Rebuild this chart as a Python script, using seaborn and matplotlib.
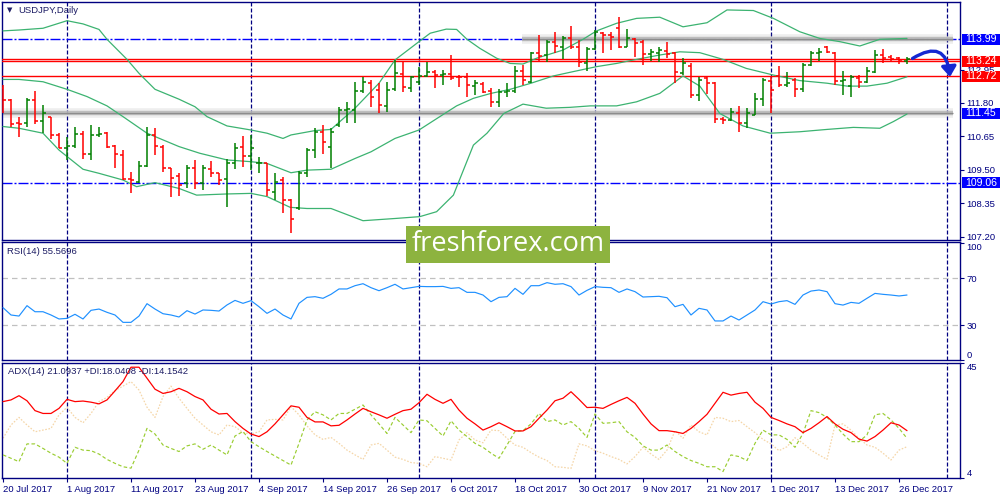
import numpy as np
import pandas as pd
import matplotlib
matplotlib.use("Agg")
import matplotlib.pyplot as plt
import seaborn as sns
from matplotlib.patches import FancyArrowPatch, Rectangle

sns.set_theme(style="white")
plt.rcParams['font.family'] = ['Liberation Sans', 'DejaVu Sans']

# ---------------- data ----------------
dates = [d for d in pd.bdate_range('2017-07-20', '2017-12-27') if d != pd.Timestamp('2017-12-25')]

opens = [112.30, 111.90, 111.10, 111.12, 111.90, 111.19, 111.31, 110.70, 110.26, 110.33,
         110.73, 110.04, 110.70, 110.78, 110.33, 110.01, 109.17, 109.09, 109.64, 110.70,
         110.30, 109.55, 109.30, 109.04, 109.55, 109.06, 109.52, 109.38, 109.17, 109.72,
         110.30, 109.98, 109.72, 109.72, 108.75, 109.15, 108.46, 108.17, 109.40, 110.18,
         110.81, 110.30, 111.04, 111.56, 111.56, 112.22, 112.50, 112.25, 111.70, 112.27,
         112.80, 112.30, 112.53, 112.73, 112.88, 112.76, 112.80, 112.70, 112.68, 112.39,
         112.45, 112.22, 111.84, 112.19, 112.22, 112.91, 112.53, 113.53, 113.45, 113.91,
         113.74, 114.02, 113.74, 113.16, 113.64, 114.20, 114.14, 114.37, 113.74, 113.99,
         113.91, 113.48, 113.53, 113.60, 113.51, 112.82, 113.07, 112.07, 112.65, 112.48,
         111.24, 111.21, 111.47, 111.10, 111.39, 111.93, 112.57, 112.73, 112.42, 112.59,
         112.27, 113.11, 113.53, 113.71, 113.53, 112.57, 112.38, 112.65, 112.53, 112.88,
         113.45, 113.37, 113.34, 113.26]
highs = [112.42, 111.93, 111.31, 111.96, 112.22, 111.73, 111.33, 110.76, 110.62, 110.96,
         110.85, 111.03, 110.96, 110.81, 110.35, 110.18, 109.44, 109.80, 110.96, 110.95,
         110.35, 109.57, 109.40, 109.67, 109.84, 109.67, 109.82, 109.40, 109.86, 110.43,
         110.66, 110.70, 109.93, 109.74, 109.38, 109.24, 108.48, 109.47, 110.24, 110.93,
         111.04, 110.93, 111.65, 111.84, 112.53, 112.70, 112.59, 112.50, 112.53, 113.28,
         113.22, 112.73, 113.05, 113.22, 112.93, 112.93, 113.45, 112.76, 112.82, 112.59,
         112.53, 112.30, 112.27, 112.48, 113.07, 113.11, 113.56, 114.14, 113.97, 114.25,
         114.10, 114.45, 113.97, 113.71, 114.31, 114.25, 114.25, 114.75, 114.33, 114.02,
         113.97, 113.64, 113.74, 113.91, 113.56, 113.34, 113.16, 112.70, 112.70, 112.53,
         111.33, 111.62, 111.70, 111.62, 112.13, 112.65, 112.73, 113.07, 112.88, 112.65,
         113.16, 113.60, 113.68, 113.76, 113.56, 112.91, 112.76, 112.76, 113.05, 113.62,
         113.64, 113.45, 113.37, 113.37]
lows = [111.44, 110.99, 110.62, 110.99, 111.08, 110.76, 110.55, 110.24, 109.84, 110.24,
        109.86, 109.84, 110.64, 110.24, 109.55, 109.15, 108.71, 109.06, 109.61, 110.01,
        109.44, 108.58, 108.60, 108.86, 108.83, 108.81, 109.26, 108.98, 108.23, 109.52,
        109.61, 109.49, 109.38, 108.60, 108.46, 108.03, 107.32, 108.12, 109.24, 109.90,
        110.04, 109.55, 110.99, 111.10, 111.10, 112.15, 111.65, 111.47, 111.50, 112.22,
        112.19, 112.19, 112.42, 112.70, 112.30, 112.42, 112.59, 112.34, 111.99, 112.07,
        112.13, 111.67, 111.65, 112.02, 112.13, 112.42, 112.50, 113.22, 113.22, 113.51,
        113.30, 113.64, 113.05, 112.91, 113.62, 113.53, 113.62, 113.68, 113.71, 113.39,
        113.11, 113.25, 113.22, 113.34, 112.48, 112.76, 111.96, 111.88, 112.11, 111.12,
        111.08, 111.19, 110.81, 110.93, 111.39, 111.70, 111.44, 112.34, 112.36, 111.99,
        112.19, 113.07, 113.26, 113.51, 112.42, 112.07, 112.02, 112.30, 112.50, 112.82,
        113.19, 113.22, 113.14, 113.14]
closes = [111.90, 111.08, 111.08, 111.90, 111.19, 111.44, 110.70, 110.26, 110.33, 110.73,
          110.04, 110.70, 110.72, 110.30, 110.04, 109.17, 109.15, 109.64, 110.70, 110.32,
          109.55, 109.21, 108.98, 109.55, 109.04, 109.55, 109.38, 109.15, 109.72, 110.24,
          109.98, 110.24, 109.75, 108.81, 109.09, 108.46, 107.80, 109.40, 110.18, 110.81,
          110.47, 110.81, 111.56, 111.58, 112.22, 112.53, 111.99, 111.73, 112.25, 112.84,
          112.34, 112.68, 112.73, 112.88, 112.76, 112.80, 112.65, 112.68, 112.42, 112.48,
          112.19, 111.84, 112.19, 112.22, 112.91, 112.59, 113.51, 113.42, 113.91, 113.76,
          114.02, 113.74, 113.22, 113.64, 114.25, 114.14, 114.08, 113.71, 114.02, 113.87,
          113.48, 113.56, 113.62, 113.48, 112.88, 113.16, 112.07, 112.59, 112.48, 111.24,
          111.21, 111.50, 111.10, 111.44, 111.93, 112.59, 112.25, 112.42, 112.48, 112.27,
          113.11, 113.53, 113.56, 113.56, 112.57, 112.59, 112.70, 112.53, 112.91, 113.45,
          113.34, 113.30, 113.28, 113.30]

# Bollinger bands (bar index, price)
bb_upper_x = [0, 2, 5, 8, 10, 12, 13, 15.5, 17, 19, 22, 24, 25.5, 28, 31, 33, 35, 36, 39, 41,
              44, 47, 49, 52, 53.4, 55.4, 56.7, 58, 59.6, 61.7, 63.4, 65, 66.7, 70, 72.5, 74.2,
              76.7, 79.2, 82.1, 85, 88, 90.5, 93.8, 96.3, 99.6, 102.1, 104.6, 107.1, 109.6, 113]
bb_upper = [114.28, 114.31, 114.37, 114.63, 114.52, 114.33, 113.99, 113.30, 112.82, 112.27,
            111.93, 111.67, 111.33, 111.01, 110.87, 110.76, 110.58, 110.70, 110.85, 110.89,
            111.62, 112.48, 113.28, 113.91, 114.20, 114.34, 114.33, 113.99, 113.68, 113.34,
            113.16, 113.14, 113.34, 113.62, 113.99, 114.28, 114.54, 114.71, 114.75, 114.42,
            114.56, 115.00, 114.98, 114.71, 114.25, 114.02, 113.91, 113.76, 113.99, 114.02]
bb_mid_x = [0, 2, 5, 8, 10.5, 13, 15, 18, 22, 24.6, 28, 31, 33, 36, 38, 41, 44, 46, 49, 52,
            54.6, 56.7, 58.8, 61, 63.4, 66, 68.8, 71.3, 74.2, 76.7, 79.2, 82.1, 84.6, 87.1, 90,
            92.9, 96.3, 99.6, 103, 105.5, 108, 110.5, 113]
bb_mid = [112.61, 112.61, 112.53, 112.27, 112.02, 111.70, 111.33, 110.76, 110.30, 110.07,
          109.84, 109.78, 109.72, 109.40, 109.49, 109.52, 109.89, 110.12, 110.58, 110.87,
          111.33, 111.70, 111.96, 112.13, 112.27, 112.48, 112.73, 112.88, 113.05, 113.16,
          113.30, 113.45, 113.56, 113.53, 113.30, 112.99, 112.76, 112.57, 112.48, 112.38,
          112.38, 112.48, 112.70]
bb_lower_x = [0, 2, 5, 7, 10, 12, 15, 16.7, 19, 22, 24.2, 28, 31, 33, 35.9, 38, 41, 45, 49.2,
              52.1, 54.2, 56.3, 58.8, 60.5, 62.6, 65, 67.9, 70.9, 73.4, 76.7, 79.2, 82.1, 85,
              87.1, 89.6, 92.5, 95.9, 99.6, 103, 106.3, 109.6, 111.3, 113]
bb_lower = [110.99, 110.93, 110.76, 110.18, 109.52, 109.38, 109.15, 108.92, 109.06, 108.86,
            108.63, 108.67, 108.69, 108.58, 108.21, 108.17, 108.17, 107.75, 107.83, 107.89,
            108.06, 108.63, 110.35, 110.76, 111.44, 111.76, 111.62, 111.65, 111.70, 111.70,
            111.84, 112.13, 112.73, 112.38, 111.44, 111.01, 110.76, 110.81, 110.89, 110.96,
            110.93, 111.16, 111.42]

rsi = [44.9, 38.6, 37.7, 46.6, 41.4, 41.4, 38.6, 35.2, 35.7, 39.2,
       35.2, 42.6, 43.7, 40.9, 38.6, 32.3, 32.3, 37.7, 48.3, 43.7,
       39.7, 38.6, 36.9, 42.3, 39.4, 42.9, 42.6, 42.0, 47.2, 51.1,
       48.6, 50.9, 45.7, 40.0, 43.7, 38.6, 35.2, 48.6, 53.7, 54.3,
       52.9, 56.3, 60.9, 60.9, 63.7, 65.4, 62.0, 59.4, 62.0, 64.9,
       60.9, 62.0, 63.1, 62.9, 62.9, 63.1, 61.4, 62.0, 58.0, 58.0,
       55.7, 50.0, 53.7, 54.3, 61.4, 56.3, 63.7, 63.7, 66.3, 64.9,
       65.4, 62.9, 55.7, 59.7, 62.9, 62.3, 62.0, 58.0, 60.9, 58.6,
       54.0, 54.3, 54.6, 53.4, 45.7, 47.7, 38.6, 44.3, 42.9, 33.5,
       33.5, 37.7, 34.3, 38.6, 42.9, 50.0, 48.0, 50.0, 50.9, 47.7,
       55.7, 59.1, 60.0, 58.6, 48.3, 47.1, 49.4, 48.6, 52.9, 57.1,
       56.3, 55.7, 54.9, 55.7]

adx = [31.2, 31.8, 33.3, 31.5, 28.0, 27.0, 27.0, 28.8, 32.0, 31.2,
       31.4, 31.0, 30.4, 31.8, 35.0, 38.3, 43.4, 43.4, 39.5, 35.6,
       34.1, 34.7, 35.9, 34.7, 33.0, 31.8, 28.5, 26.8, 27.0, 24.1,
       21.7, 19.7, 18.8, 20.5, 23.3, 26.5, 29.7, 29.2, 25.6, 24.0,
       24.0, 22.6, 22.8, 24.7, 26.8, 28.8, 27.6, 26.5, 25.3, 26.7,
       28.0, 28.5, 30.8, 33.8, 32.0, 30.6, 32.0, 28.2, 25.3, 23.3,
       21.1, 22.3, 23.7, 22.3, 20.8, 20.8, 22.3, 25.3, 28.2, 31.5,
       32.4, 34.7, 32.0, 29.1, 29.2, 28.8, 30.2, 31.5, 32.7, 30.6,
       26.8, 23.3, 20.9, 20.9, 20.5, 19.9, 21.7, 24.1, 26.7, 30.6,
       34.5, 33.5, 34.1, 34.5, 31.0, 28.8, 25.6, 24.5, 23.3, 22.3,
       20.2, 21.7, 23.7, 25.9, 23.3, 21.4, 20.2, 17.9, 17.2, 18.8,
       21.1, 23.7, 22.9, 20.9]
plus_di = [12.3, 11.1, 9.9, 16.2, 16.2, 14.6, 12.9, 11.5, 9.3, 15.0,
           14.0, 13.8, 12.6, 10.7, 9.3, 8.1, 7.6, 14.0, 21.7, 19.7,
           15.8, 14.6, 13.5, 15.5, 16.2, 14.3, 15.8, 14.0, 12.3, 19.0,
           20.6, 17.0, 15.2, 13.5, 11.9, 10.3, 8.7, 16.4, 24.7, 27.6,
           26.5, 24.7, 27.0, 27.0, 28.5, 30.0, 26.5, 23.3, 19.9, 25.6,
           22.9, 20.2, 24.7, 24.4, 21.7, 19.0, 24.4, 21.1, 18.8, 16.4,
           15.0, 12.9, 11.1, 15.8, 20.6, 20.9, 23.3, 27.0, 24.1, 24.7,
           22.9, 24.1, 21.7, 18.5, 26.8, 23.5, 23.7, 24.1, 20.5, 18.5,
           15.5, 14.0, 14.0, 15.8, 13.5, 11.7, 10.3, 9.3, 8.1, 8.1,
           6.4, 12.3, 11.7, 10.3, 16.4, 21.1, 19.4, 19.4, 17.8, 15.0,
           19.9, 28.0, 27.3, 25.6, 22.9, 19.7, 17.0, 17.0, 19.4, 26.5,
           27.0, 24.7, 21.7, 18.2]
minus_di = [18.2, 22.9, 25.6, 22.9, 20.5, 21.1, 21.7, 26.5, 29.2, 25.6,
            23.7, 27.0, 31.2, 32.7, 35.1, 36.7, 38.3, 35.3, 29.2, 25.6,
            33.0, 36.7, 32.4, 28.8, 25.3, 22.9, 20.5, 19.4, 22.9, 22.3,
            20.2, 19.7, 20.5, 24.7, 24.9, 24.7, 29.4, 26.5, 22.6, 19.4,
            17.8, 18.5, 16.4, 14.0, 12.3, 10.7, 15.8, 16.4, 14.0, 11.5,
            10.7, 9.6, 9.3, 8.1, 11.7, 11.1, 10.5, 17.6, 20.2, 17.6,
            16.6, 21.1, 20.9, 18.2, 15.8, 15.0, 13.1, 11.5, 10.3, 8.1,
            7.9, 7.5, 16.2, 15.5, 13.8, 12.9, 11.7, 10.7, 9.1, 11.7,
            15.0, 12.6, 10.7, 14.0, 20.9, 18.2, 22.9, 20.5, 19.4, 25.6,
            25.3, 24.1, 24.5, 22.3, 20.2, 17.8, 16.2, 13.8, 15.2, 18.4,
            16.4, 14.0, 12.3, 10.7, 22.9, 23.3, 21.1, 18.2, 15.8, 15.0,
            12.9, 10.5, 14.0, 15.2]

blue_levels = [113.99, 109.06]            # dash-dot lines
red_levels = [113.30, 113.23, 112.72]     # solid red lines
gray_bands = [(113.99, 65), (111.45, 0)]  # (price, first bar)
box_labels = [(113.99, '#0000ff'), (113.24, '#ff0000'), (112.72, '#ff0000'),
              (111.45, '#0000ff'), (109.06, '#0000ff')]
price_ticks = [107.20, 108.35, 109.50, 110.65, 111.80, 112.95]
month_grid = [8, 31, 52, 74, 96, 118]     # first bar of Aug..Jan
label_step = 8

# ---------------- figure ----------------
W, H = 1000, 500
fig = plt.figure(figsize=(10, 5), dpi=100)
fig.patch.set_facecolor('white')
navy = '#000080'
txt = '#1c1c64'
FS = 6.8

def frac(x0, y0, x1, y1):
    return [x0 / W, 1 - y1 / H, (x1 - x0) / W, (y1 - y0) / H]

ax_p = fig.add_axes(frac(2.3, 2.3, 959.8, 240.3))
ax_r = fig.add_axes(frac(2.3, 242.3, 959.8, 360.3))
ax_a = fig.add_axes(frac(2.3, 362.7, 959.8, 478.3))

idx = np.arange(len(dates))
xlim = (-0.0875, 119.6)

for ax in (ax_p, ax_r, ax_a):
    ax.set_facecolor('white')
    ax.set_xlim(*xlim)
    for s in ax.spines.values():
        s.set_color(navy)
        s.set_linewidth(1.0)
    ax.grid(False)
    for m in month_grid:
        ax.axvline(m, color=navy, lw=0.9, ls=(0, (3.2, 1.6)), zorder=1)
    ax.yaxis.tick_right()
    ax.tick_params(axis='y', which='both', direction='out', length=3, width=0.8,
                   color=navy, labelcolor=navy, labelsize=FS, pad=2, left=False, right=True)
    ax.tick_params(axis='x', which='both', bottom=False, labelbottom=False)

# ---------- price panel ----------
ax_p.set_ylim(107.076, 115.263)
for lvl in blue_levels:
    ax_p.axhline(lvl, color='#0000ff', lw=1.0, ls=(0, (7.2, 1.44, 1.44, 1.44)), zorder=2)
for price, start in gray_bands:
    xs = [start - 0.1, 118.75]
    ax_p.plot(xs, [price, price], color='#808080', lw=7.0, alpha=0.13, solid_capstyle='butt', zorder=2)
    ax_p.plot(xs, [price, price], color='#b8b8b8', lw=3.2, alpha=0.9, solid_capstyle='butt', zorder=2)
    ax_p.plot(xs, [price, price], color='#8c8c8c', lw=0.9, solid_capstyle='butt', zorder=2)
for lvl in red_levels:
    ax_p.axhline(lvl, color='#ff0000', lw=1.0, zorder=3)

band_color = '#3cb371'
sns.lineplot(x=bb_upper_x, y=bb_upper, ax=ax_p, color=band_color, lw=0.9, sort=False, estimator=None, zorder=4)
sns.lineplot(x=bb_mid_x, y=bb_mid, ax=ax_p, color=band_color, lw=0.9, sort=False, estimator=None, zorder=4)
sns.lineplot(x=bb_lower_x, y=bb_lower, ax=ax_p, color=band_color, lw=0.9, sort=False, estimator=None, zorder=4)

o = np.array(opens); h = np.array(highs); l = np.array(lows); c = np.array(closes)
cols = np.where(c >= o, '#008000', '#ff0000')
ax_p.vlines(idx, l, h, colors=cols, lw=1.1, zorder=5)
ax_p.hlines(o, idx - 0.4, idx, colors=cols, lw=1.1, zorder=5)
ax_p.hlines(c, idx, idx + 0.4, colors=cols, lw=1.1, zorder=5)

ax_p.set_yticks(price_ticks)
ax_p.set_yticklabels([f"{v:.2f}" for v in price_ticks])
ax_p.set_xlabel(''); ax_p.set_ylabel('')

arrow = FancyArrowPatch(posA=(113.4, 113.28), posB=(118.4, 112.60),
                        connectionstyle='arc3,rad=-0.85', arrowstyle='-|>,head_length=0.55,head_width=0.4',
                        mutation_scale=11, lw=2.4, color='#1428d2', zorder=8, clip_on=False)
ax_p.add_patch(arrow)

# ---------- RSI panel ----------
ax_r.set_ylim(-0.2, 100.86)
for lvl in (70, 30):
    ax_r.axhline(lvl, color='#c0c0c0', lw=0.9, ls=(0, (4.4, 3.2)), zorder=1)
sns.lineplot(x=idx, y=rsi, ax=ax_r, color='#1e90ff', lw=0.85, estimator=None, zorder=4)
ax_r.set_yticks([100, 70, 30, 0])
ax_r.set_yticklabels(['100', '70', '30', '0'])
tl = ax_r.get_yticklabels()
tl[0].set_va('top'); tl[3].set_va('bottom')
ax_r.set_xlabel(''); ax_r.set_ylabel('')

# ---------- ADX panel ----------
ax_a.set_ylim(4, 45)
sns.lineplot(x=idx, y=minus_di, ax=ax_a, color='#f5d6a8', lw=0.9, estimator=None, zorder=2)
ax_a.lines[-1].set_linestyle((0, (1.3, 1.3)))
sns.lineplot(x=idx, y=plus_di, ax=ax_a, color='#9acd32', lw=0.85, estimator=None, zorder=3)
ax_a.lines[-1].set_linestyle((0, (3.0, 2.0)))
sns.lineplot(x=idx, y=adx, ax=ax_a, color='#ff0000', lw=0.9, estimator=None, zorder=4)
ax_a.set_yticks([45, 4])
ax_a.set_yticklabels(['45', '4'])
tl = ax_a.get_yticklabels()
tl[0].set_va('top'); tl[1].set_va('bottom')
tick_idx = list(range(0, len(dates), label_step))
ax_a.set_xticks(tick_idx)
ax_a.set_xticklabels([f"{dates[i].day} {dates[i].strftime('%b %Y')}" for i in tick_idx])
ax_a.tick_params(axis='x', bottom=True, labelbottom=True, direction='out', length=3, width=0.8,
                 color=navy, labelcolor=navy, labelsize=FS, pad=2)
for t in ax_a.get_xticklabels():
    t.set_ha('left')
ax_a.set_xlabel(''); ax_a.set_ylabel('')

# ---------- labels ----------
fig.text(7 / W, 1 - 10.5 / H, '\u25BC', fontsize=5, color=txt, va='center', ha='left', family=['DejaVu Sans'])
fig.text(18 / W, 1 - 10.7 / H, 'USDJPY,Daily', fontsize=FS, color=txt, va='center', ha='left')
fig.text(7 / W, 1 - 251.7 / H, 'RSI(14) 55.5696', fontsize=FS, color=txt, va='center', ha='left')
fig.text(8 / W, 1 - 371.7 / H, 'ADX(14) 21.0937 +DI:18.0408 -DI:14.1542', fontsize=FS, color=txt,
         va='center', ha='left')

# price boxes on right axis
fig.canvas.draw()
for val, colr in box_labels:
    yd = ax_p.transData.transform((0, val))[1]
    yf = yd / (fig.get_figheight() * fig.dpi)
    rect = Rectangle((961.7 / W, yf - 5.6 / H), 38.3 / W, 11.2 / H, transform=fig.transFigure,
                     facecolor=colr, edgecolor='none', zorder=10)
    fig.add_artist(rect)
    fig.text(965.5 / W, yf, f"{val:.2f}", fontsize=7.6, color='white', va='center', ha='left', zorder=11)

# watermark
fig.add_artist(Rectangle((406 / W, 1 - 263.3 / H), 204 / W, 37.3 / H, transform=fig.transFigure,
                         facecolor='#8db33f', edgecolor='none', zorder=20))
fig.text(508.5 / W, 1 - 244 / H, 'freshforex.com', fontsize=19.5, color='white', va='center', ha='center',
         family=['Open Sans', 'DejaVu Sans'], zorder=21)

fig.savefig('out.png', dpi=100, facecolor='white')
